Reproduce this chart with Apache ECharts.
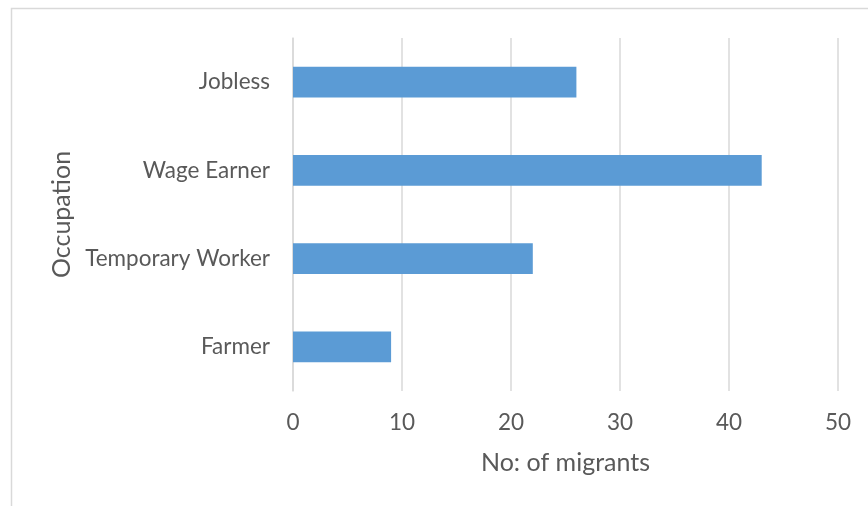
<!DOCTYPE html>
<html>
<head>
<meta charset="utf-8">
<script src="https://cdn.jsdelivr.net/npm/echarts@6/dist/echarts.min.js"></script>
<style>
  html, body { margin: 0; padding: 0; background: #fff; }
  #chart { width: 868px; height: 506px; }
</style>
</head>
<body>
<div id="chart"></div>
<script>
// Occupation of migrants
const categories = ['Farmer', 'Temporary Worker', 'Wage Earner', 'Jobless'];
const migrants = [9, 22, 43, 26];
const xTicks = { min: 0, max: 50, interval: 10 };

const textColor = '#595959';
const gridColor = '#d9d9d9';
const font = 'Lato, Open Sans, sans-serif';

const chart = echarts.init(document.getElementById('chart'), null, { renderer: 'canvas' });
chart.setOption({
  animation: false,
  backgroundColor: '#ffffff',
  graphic: [{
    type: 'rect',
    shape: { x: 11.5, y: 8.5, width: 900, height: 600 },
    style: { fill: 'none', stroke: gridColor, lineWidth: 1.5 },
    silent: true
  }],
  grid: { left: 293, right: 30, top: 38, bottom: 115 },
  xAxis: {
    type: 'value',
    min: xTicks.min, max: xTicks.max, interval: xTicks.interval,
    name: 'No: of migrants',
    nameLocation: 'middle',
    nameGap: 59,
    nameTextStyle: { color: textColor, fontSize: 25, fontFamily: font },
    axisLine: { show: false },
    axisTick: { show: false },
    axisLabel: { color: textColor, fontSize: 22.5, fontFamily: font, margin: 20 },
    splitLine: { show: true, lineStyle: { color: gridColor, width: 1.5 } }
  },
  yAxis: {
    type: 'category',
    data: categories,
    name: 'Occupation',
    nameLocation: 'middle',
    nameGap: 216,
    nameTextStyle: { color: textColor, fontSize: 25, fontFamily: font },
    axisLine: { show: true, lineStyle: { color: gridColor, width: 1.5 } },
    axisTick: { show: false },
    axisLabel: { color: textColor, fontSize: 22.5, fontFamily: font, margin: 23 }
  },
  series: [{
    type: 'bar',
    data: migrants,
    barWidth: '35%',
    itemStyle: { color: '#5b9bd5' }
  }]
});
</script>
</body>
</html>
